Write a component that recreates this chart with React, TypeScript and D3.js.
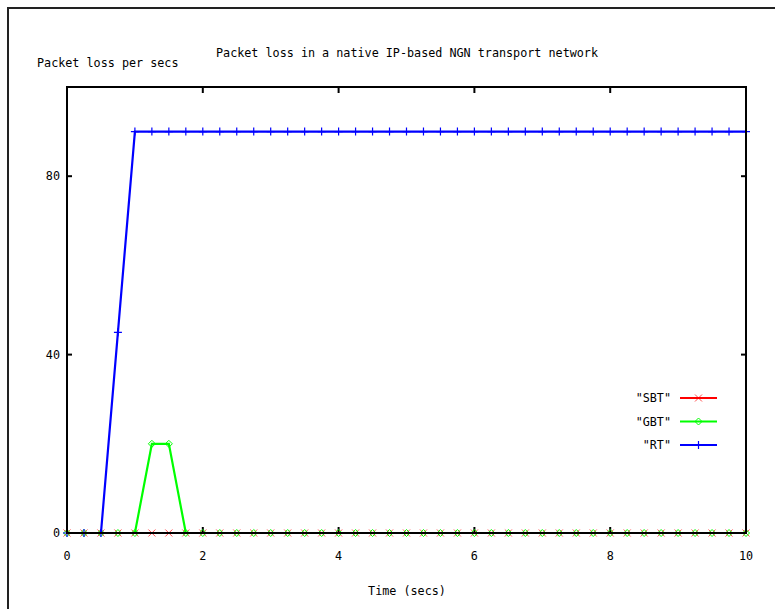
import React from "react";
import * as d3 from "d3";

const timeSecs = d3.range(0, 41).map((i) => i * 0.25);
const sbtValues = [0,0,0,0,0,0,0,0,0,0,0,0,0,0,0,0,0,0,0,0,0,0,0,0,0,0,0,0,0,0,0,0,0,0,0,0,0,0,0,0,0];
const gbtValues = [0,0,0,0,0,20,20,0,0,0,0,0,0,0,0,0,0,0,0,0,0,0,0,0,0,0,0,0,0,0,0,0,0,0,0,0,0,0,0,0,0];
const rtValues = [0,0,0,45,90,90,90,90,90,90,90,90,90,90,90,90,90,90,90,90,90,90,90,90,90,90,90,90,90,90,90,90,90,90,90,90,90,90,90,90,90];
const xTicks = [0, 2, 4, 6, 8, 10];
const yTicks = [0, 40, 80];
const seriesNames = ['"SBT"', '"GBT"', '"RT"'];
const seriesColors = ["#ff0000", "#00ff00", "#0000ff"];
const title = "Packet loss in a native IP-based NGN transport network";
const yLabel = "Packet loss per secs";
const xLabel = "Time (secs)";

const W = 775;
const H = 609;
const L = 67, R = 746, T = 87, B = 533;
const font = "'DejaVu Sans Mono', monospace";
const fs = 11.75;

export default function App() {
  const x = d3.scaleLinear().domain([0, 10]).range([L, R]);
  const y = d3.scaleLinear().domain([0, 100]).range([B, T]);
  const line = d3.line<[number, number]>().x((d) => x(d[0])).y((d) => y(d[1]));
  const series = [sbtValues, gbtValues, rtValues].map((vals) =>
    timeSecs.map((t, i) => [t, vals[i]] as [number, number])
  );

  const marker = (k: number, cx: number, cy: number, key: string) => {
    const c = seriesColors[k];
    if (k === 0) {
      const s = 3.5;
      return (
        <path key={key} d={`M${cx - s},${cy - s}L${cx + s},${cy + s}M${cx - s},${cy + s}L${cx + s},${cy - s}`} stroke={c} strokeWidth={1} strokeOpacity={0.7} fill="none" />
      );
    }
    if (k === 1) {
      const s = 3.5;
      return (
        <path key={key} d={`M${cx},${cy - s}L${cx + s},${cy}L${cx},${cy + s}L${cx - s},${cy}Z`} stroke={c} strokeWidth={1} fill="none" />
      );
    }
    const s = 4;
    return (
      <path key={key} d={`M${cx - s},${cy}L${cx + s},${cy}M${cx},${cy - s}L${cx},${cy + s}`} stroke={c} strokeWidth={1.2} fill="none" />
    );
  };

  const legendY = [398, 421.5, 445];

  return (
    <svg width={W} height={H} style={{ position: "absolute", left: 0, top: 0, background: "#fff" }} fontFamily={font} fontSize={fs}>
      <rect x={0} y={0} width={W} height={H} fill="#fff" />
      {/* outer frame */}
      <path d={`M8,${H}L8,8L${W},8`} stroke="#222" strokeWidth={2} fill="none" />

      {/* labels */}
      <text x={216} y={53} dominantBaseline="central" fill="#000">{title}</text>
      <text x={37} y={63} dominantBaseline="central" fill="#000">{yLabel}</text>
      <text x={407} y={591} textAnchor="middle" dominantBaseline="central" fill="#000">{xLabel}</text>

      {/* ticks */}
      {xTicks.map((t) => (
        <g key={"xt" + t}>
          <line x1={x(t)} x2={x(t)} y1={B} y2={B - 6} stroke="#000" strokeWidth={2} />
          <line x1={x(t)} x2={x(t)} y1={T} y2={T + 6} stroke="#000" strokeWidth={2} />
          <text x={x(t)} y={556} textAnchor="middle" dominantBaseline="central" fill="#000">{t}</text>
        </g>
      ))}
      {yTicks.map((t) => (
        <g key={"yt" + t}>
          <line x1={L} x2={L + 5} y1={y(t)} y2={y(t)} stroke="#000" strokeWidth={2} />
          <line x1={R} x2={R - 5} y1={y(t)} y2={y(t)} stroke="#000" strokeWidth={2} />
          <text x={60} y={y(t)} textAnchor="end" dominantBaseline="central" fill="#000">{t}</text>
        </g>
      ))}

      {/* series */}
      {series.map((pts, k) => (
        <g key={"s" + k}>
          <path d={line(pts) || ""} stroke={seriesColors[k]} strokeWidth={2.2} fill="none" />
          {pts.map((p, i) => marker(k, x(p[0]), y(p[1]), `m${k}-${i}`))}
        </g>
      ))}

      {/* legend */}
      {seriesNames.map((n, k) => (
        <g key={"lg" + k}>
          <text x={671} y={legendY[k]} textAnchor="end" dominantBaseline="central" fill="#000">{n}</text>
          <line x1={680} x2={717} y1={legendY[k]} y2={legendY[k]} stroke={seriesColors[k]} strokeWidth={2.2} />
          {marker(k, 698.5, legendY[k], "lm" + k)}
        </g>
      ))}

      {/* plot border */}
      <rect x={L} y={T} width={R - L} height={B - T} fill="none" stroke="#000" strokeWidth={2} />
    </svg>
  );
}
